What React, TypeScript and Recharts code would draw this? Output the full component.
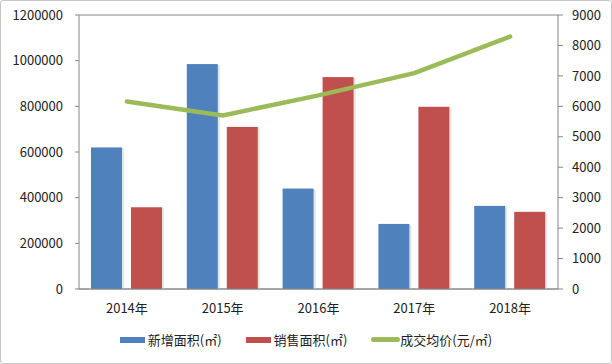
import React from 'react';
import { ComposedChart, Bar, Line, XAxis, YAxis, CartesianGrid, Legend } from 'recharts';

const categories = ['2014年', '2015年', '2016年', '2017年', '2018年'];
const newArea = [620000, 985000, 440000, 285000, 364000];
const soldArea = [358000, 710000, 928000, 798000, 338000];
const avgPrice = [6160, 5700, 6360, 7090, 8290];
const leftTicks = [0, 200000, 400000, 600000, 800000, 1000000, 1200000];
const rightTicks = [0, 1000, 2000, 3000, 4000, 5000, 6000, 7000, 8000, 9000];
const seriesNames = ['新增面积(㎡)', '销售面积(㎡)', '成交均价(元/㎡)'];

const data = categories.map((c, i) => ({
  name: c,
  a: newArea[i],
  b: soldArea[i],
  p: avgPrice[i],
}));

const FONT = '"Noto Sans CJK SC", "DejaVu Sans", sans-serif';
const BLUE = '#4F81BD';
const RED = '#C0504D';
const GREEN = '#9BBB59';
const GRID = '#868686';

const GlowBar = (props: any) => {
  const { x, y, width, height, fill } = props;
  if (width == null || height == null || height <= 0) return null;
  return (
    <g>
      <rect x={x - 2} y={y - 2} width={width + 4} height={height + 1.5} fill="#ffffff" />
      <rect x={x + width} y={y + 1} width={2} height={height - 1} fill="#d9d9d9" opacity={0.7} />
      <rect x={x} y={y} width={width} height={height} fill={fill} />
    </g>
  );
};

const LegendContent = () => {
  const items = [
    { name: seriesNames[0], color: BLUE, type: 'bar' },
    { name: seriesNames[1], color: RED, type: 'bar' },
    { name: seriesNames[2], color: GREEN, type: 'line' },
  ];
  return (
    <div style={{ display: 'flex', justifyContent: 'center', alignItems: 'center', fontFamily: FONT, fontSize: 13, color: '#222', paddingTop: 6 }}>
      {items.map((it, i) => (
        <div key={i} style={{ display: 'flex', alignItems: 'center', marginRight: i < 2 ? 24 : 0 }}>
          <div
            style={{
              width: it.type === 'bar' ? 25 : 29,
              height: it.type === 'bar' ? 6 : 5,
              background: it.color,
              borderRadius: it.type === 'line' ? 3 : 0,
              marginRight: it.type === 'bar' ? 3 : 0,
            }}
          />
          <span>{it.name}</span>
        </div>
      ))}
    </div>
  );
};

export default function App() {
  return (
    <div style={{ position: 'absolute', left: 0, top: 0, width: 612, height: 364, background: '#fff' }}>
      <ComposedChart
        width={612}
        height={364}
        data={data}
        margin={{ top: 15, right: 0, bottom: 4, left: 0 }}
        barSize={31}
        barGap={9}
      >
        <CartesianGrid vertical={false} stroke={GRID} strokeWidth={1} />
        <XAxis
          dataKey="name"
          axisLine={{ stroke: GRID }}
          tickLine={false}
          tickSize={0}
          tickMargin={15}
          height={35}
          tick={{ fill: '#222', fontSize: 13, fontFamily: FONT }}
        />
        <YAxis
          yAxisId="left"
          domain={[0, 1200000]}
          ticks={leftTicks}
          interval={0}
          width={79}
          axisLine={{ stroke: GRID }}
          tickLine={{ stroke: GRID }}
          tickSize={4}
          tickMargin={12}
          tick={{ fill: '#222', fontSize: 13, fontFamily: FONT }}
        />
        <YAxis
          yAxisId="right"
          orientation="right"
          domain={[0, 9000]}
          ticks={rightTicks}
          interval={0}
          width={54}
          axisLine={{ stroke: GRID }}
          tickLine={{ stroke: GRID }}
          tickSize={5}
          tickMargin={9}
          tick={{ fill: '#222', fontSize: 13, fontFamily: FONT }}
        />
        <Legend verticalAlign="bottom" height={36} content={<LegendContent />} />
        <Bar yAxisId="left" dataKey="a" name={seriesNames[0]} fill={BLUE} shape={<GlowBar />} isAnimationActive={false} />
        <Bar yAxisId="left" dataKey="b" name={seriesNames[1]} fill={RED} shape={<GlowBar />} isAnimationActive={false} />
        <Line
          yAxisId="right"
          type="linear"
          dataKey="p"
          name={seriesNames[2]}
          stroke={GREEN}
          strokeWidth={4.5}
          strokeLinecap="round"
          strokeLinejoin="round"
          dot={false}
          activeDot={false}
          isAnimationActive={false}
        />
      </ComposedChart>
      <div style={{ position: 'absolute', left: 0, top: 0, width: 610, height: 362, border: '1px solid #c6c6c6', borderRadius: 3, pointerEvents: 'none' }} />
    </div>
  );
}
